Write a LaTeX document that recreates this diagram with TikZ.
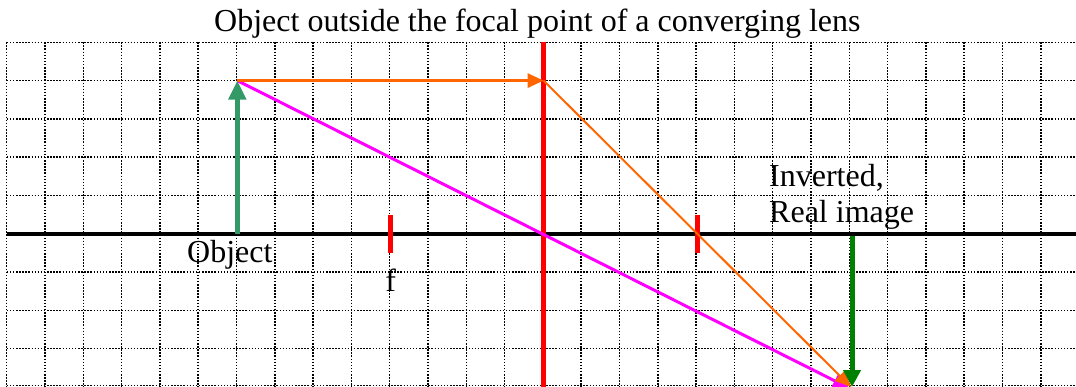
\documentclass[tikz,border=0pt]{standalone}
\usepackage{fontspec}
\setmainfont{Liberation Serif}
\usetikzlibrary{arrows.meta}
\definecolor{objgreen}{HTML}{339966}
\definecolor{imggreen}{HTML}{008000}
\definecolor{rayorange}{HTML}{FF6600}
\definecolor{raymag}{HTML}{FF00FF}
\definecolor{lensred}{HTML}{FF0000}
\tikzset{
  gridline/.style={black, line width=1.5pt, dash pattern=on 1.5pt off 1.6pt},
  axisline/.style={black, line width=4.5pt},
  lensline/.style={lensred, line width=5.5pt},
  focaltick/.style={lensred, line width=5pt},
  objarrow/.style={objgreen, line width=5pt, -{Triangle[length=19pt,width=17pt]}},
  imgarrow/.style={imggreen, line width=5pt, -{Triangle[length=17pt,width=17pt]}},
  orangeray/.style={rayorange, line width=3pt, -{Triangle[length=16pt,width=14pt]}},
  orangeray2/.style={rayorange, line width=2pt, -{Triangle[length=16pt,width=14pt]}},
  magray/.style={raymag, line width=3pt, -{Triangle[length=16pt,width=14pt]}},
  lbl/.style={inner sep=0pt, font=\fontsize{32}{36}\selectfont},
}
\begin{document}
\begin{tikzpicture}[x=1pt,y=-1pt]
\useasboundingbox (0,0) rectangle (1076,387);
% grid
\foreach \k in {0,...,27} {
  \draw[gridline] ({6.7+38.3*\k},42.3) -- ({6.7+38.3*\k},387);
}
\foreach \j in {0,...,8} {
  \draw[gridline] (6.7,{42.3+38.3*\j}) -- (1076,{42.3+38.3*\j});
}
\draw[gridline] (6.7,385.5) -- (1076,385.5);
% coordinates
\coordinate (axL) at (6.7,234);
\coordinate (axR) at (1076,234);
\coordinate (lensT) at (543.6,42);
\coordinate (lensB) at (543.6,390);
\coordinate (lensTop) at (543.6,80.6);
\coordinate (f1T) at (390.7,215);
\coordinate (f1B) at (390.7,253);
\coordinate (f2T) at (697,215);
\coordinate (f2B) at (697,253);
\coordinate (objB) at (237.3,234);
\coordinate (objT) at (237.3,80.6);
\coordinate (imgB) at (852,236);
\coordinate (imgT) at (852,387);
\coordinate (orEnd) at (851,387);
\coordinate (mgEnd) at (849,388);
% axis and lens
\draw[axisline] (axL) -- (axR);
\draw[lensline] (lensT) -- (lensB);
\draw[focaltick] (f1T) -- (f1B);
\draw[focaltick] (f2T) -- (f2B);
% rays
\draw[magray] (objT) -- (mgEnd);
\draw[orangeray] (objT) -- (lensTop);
\draw[orangeray2] (lensTop) -- (orEnd);
% arrows
\draw[objarrow] (objB) -- (objT);
\draw[imgarrow] (imgB) -- (imgT);
% texts
\node[lbl, anchor=base west] (title) at (214,32) {Object outside the focal point of a converging lens};
\node[lbl, anchor=base west] (objlbl) at (187,263) {Object};
\node[lbl, anchor=base] (flbl) at (390.7,292) {f};
\node[lbl, anchor=base west] (inv) at (769,187) {Inverted,};
\node[lbl, anchor=base west] (real) at (769,223) {Real image};
\end{tikzpicture}
\end{document}
